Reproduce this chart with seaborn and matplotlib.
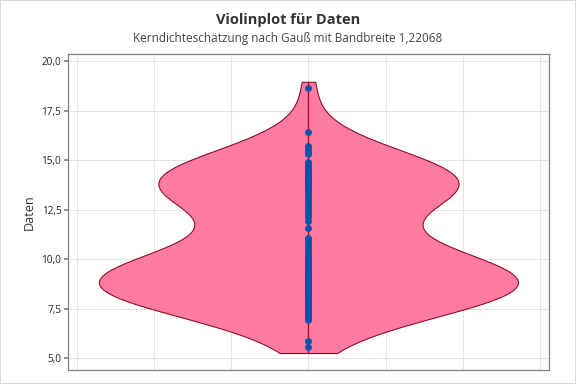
import numpy as np
import matplotlib
matplotlib.use("Agg")
import matplotlib.pyplot as plt
import seaborn as sns
from matplotlib.ticker import FuncFormatter

# Data values
daten = [18.65, 16.41,
         15.7, 15.55, 15.4, 15.3,
         14.9, 14.8, 14.7, 14.6, 14.5, 14.45, 14.35, 14.25, 14.2, 14.1,
         14.0, 13.95, 13.9, 13.85, 13.75, 13.65, 13.6, 13.55, 13.45, 13.3, 13.2, 13.05,
         12.9, 12.75, 12.6, 12.45, 12.3, 12.15,
         11.9, 11.55,
         11.05, 10.9, 10.75, 10.6, 10.45, 10.3, 10.2, 10.1, 10.0, 9.9, 9.8, 9.7, 9.6,
         9.55, 9.45, 9.4, 9.3, 9.25, 9.15, 9.1, 9.0, 8.95, 8.9, 8.85, 8.8, 8.75, 8.7,
         8.65, 8.6, 8.55, 8.5, 8.45, 8.4, 8.3, 8.25, 8.2, 8.1, 8.0, 7.9, 7.8, 7.7, 7.6,
         7.5, 7.4, 7.3, 7.2, 7.1, 7.0, 6.9,
         5.86, 5.56]
bandbreite = 1.22068
titel = "Violinplot für Daten"
untertitel = "Kerndichteschätzung nach Gauß mit Bandbreite 1,22068"
y_label = "Daten"
y_ticks = [5.0, 7.5, 10.0, 12.5, 15.0, 17.5, 20.0]

sns.set_theme(style="white")
plt.rcParams['font.family'] = ['Open Sans', 'DejaVu Sans']

fig = plt.figure(figsize=(6, 4), dpi=96)
fig.patch.set_edgecolor('#d9d9d9')
fig.patch.set_linewidth(1.5)
ax = fig.add_axes([0.118, 0.036, 0.835, 0.823])

std = np.std(daten, ddof=1)
cut = 0.25
sns.violinplot(y=daten, ax=ax, inner=None, cut=cut, bw_method=bandbreite / std,
               color="#FF7BA3", saturation=1, linecolor="#8B0A1E", linewidth=0.8,
               width=5.44, density_norm="width", zorder=2)
lo = min(daten) - cut * bandbreite
hi = max(daten) + cut * bandbreite
ax.vlines(0, lo, hi, color="#C00018", linewidth=1.0, zorder=3)
sns.stripplot(y=daten, ax=ax, jitter=False, color="#0A54A8", size=5.2, zorder=4)

ax.set_xlim(-3.12, 3.12)
ax.set_xticks(range(-3, 4))
ax.set_xticklabels([])
ax.tick_params(axis='x', length=0)
ax.set_ylim(4.39, 20.35)
ax.set_yticks(y_ticks)
ax.yaxis.set_major_formatter(FuncFormatter(lambda v, p: f"{v:.1f}".replace('.', ',')))
ax.tick_params(axis='y', labelsize=7.5, length=3, color='#7f7f7f', pad=2, left=True)
ax.grid(True, color='#e3e3e3', linewidth=0.8)
ax.set_axisbelow(True)
for s in ax.spines.values():
    s.set_color('#7f7f7f')
    s.set_linewidth(0.9)
ax.set_ylabel(y_label, fontsize=9.5, color='#333333')
ax.set_xlabel("")

fig.text(0.5, 0.948, titel, ha='center', va='center', fontsize=11, fontweight='bold', color='#333333')
fig.text(0.5, 0.901, untertitel, ha='center', va='center', fontsize=8.8, color='#444444')

fig.savefig("out.png", dpi=96, edgecolor=fig.get_edgecolor())
